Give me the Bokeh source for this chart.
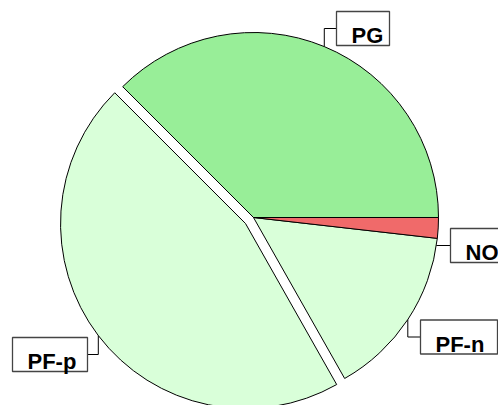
import numpy as np
from bokeh.plotting import figure
from bokeh.models import Range1d, ColumnDataSource
from bokeh.core.properties import value
from bokeh.embed import file_html
from bokeh.resources import INLINE

# ---- data ----
categories = ["PG", "PF-p", "PF-n", "NO"]
values = [37.5, 45.7, 15.0, 1.8]
colors = ["#98ee98", "#d9ffd9", "#d9ffd9", "#f06a6a"]
exploded = [0, 1, 0, 0]

# ---- layout (screen-pixel based, origin at pie centre, y up) ----
R = 185
EXPLODE = 10
# label box: left x, centre y, width  (order as categories)
label_left = [83, -241, 167, 197]
label_cy = [189, -137, -119.5, -28]
label_w = [53, 75, 77, 70]
leader_bend = [True, True, True, False]
BOX_H = 34

W, H = 498, 405
p = figure(width=W, height=H, x_range=Range1d(-253, 245), y_range=Range1d(-188, 217),
           output_backend="svg", toolbar_location=None, min_border=0)
p.xaxis.visible = False
p.yaxis.visible = False
p.grid.visible = False
p.outline_line_color = None
p.background_fill_color = "white"
p.border_fill_color = "white"

vals = np.array(values, dtype=float)
frac = vals / vals.sum()
ends = np.cumsum(frac) * 2 * np.pi
starts = ends - frac * 2 * np.pi
mids = (starts + ends) / 2
cx = np.array(exploded) * EXPLODE * np.cos(mids)
cy = np.array(exploded) * EXPLODE * np.sin(mids)

src = ColumnDataSource(dict(x=cx, y=cy, start=starts, end=ends, color=colors, cat=categories))
p.wedge(x="x", y="y", radius=R, start_angle="start", end_angle="end", fill_color="color",
        line_color="black", line_width=1, source=src)

# leaders
xs, ys = [], []
for i in range(len(categories)):
    ex = cx[i] + R * np.cos(mids[i])
    ey = cy[i] + R * np.sin(mids[i])
    ly = label_cy[i]
    bx = label_left[i] if ex > 0 else label_left[i] + label_w[i]
    if leader_bend[i]:
        xs.append([ex, ex, bx])
        ys.append([ey, ly, ly])
    else:
        sx = np.sign(ex) * np.sqrt(R ** 2 - ly ** 2)
        xs.append([sx, bx])
        ys.append([ly, ly])
p.multi_line(xs=xs, ys=ys, line_color="black", line_width=1)

# label boxes
lb = ColumnDataSource(dict(
    left=label_left,
    right=[l + w for l, w in zip(label_left, label_w)],
    top=[c + BOX_H / 2 for c in label_cy],
    bottom=[c - BOX_H / 2 for c in label_cy],
    tx=[l + 15 for l in label_left],
    ty=[c - 7 for c in label_cy],
    text=categories,
))
p.quad(left="left", right="right", top="top", bottom="bottom", source=lb,
       fill_color="white", line_color="#444444", line_width=1.3)
p.text(x="tx", y="ty", text="text", source=lb, text_font=value("Liberation Sans"),
       text_font_style="bold", text_font_size="22px", text_color="black",
       text_baseline="alphabetic", text_align="left")

open("out.html", "w").write(file_html(p, INLINE))
